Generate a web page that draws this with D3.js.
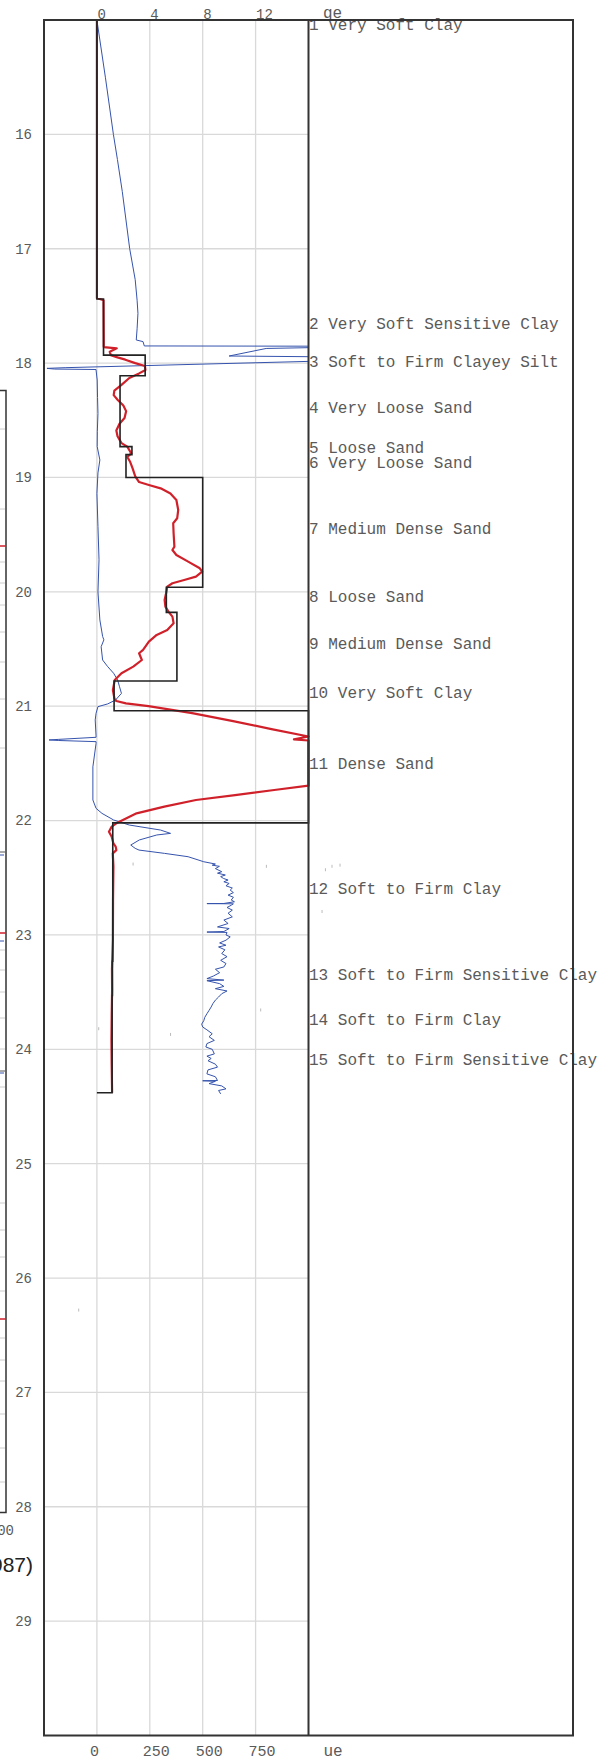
<!DOCTYPE html>
<html><head><meta charset="utf-8">
<script src="https://cdn.jsdelivr.net/npm/d3@7"></script>
<style>html,body{margin:0;padding:0;background:#fff;} svg{display:block}</style>
</head><body><svg id="c" width="614" height="1760"></svg>
<script>
// ---------- data ----------
const depthTicks = [16,17,18,19,20,21,22,23,24,25,26,27,28,29];
const qTicks = [0,4,8,12];
const uTicks = [0,250,500,750];
const qTitle = "qe";
const uTitle = "ue";

const layerNames = ["1 Very Soft Clay","2 Very Soft Sensitive Clay","3 Soft to Firm Clayey Silt",
  "4 Very Loose Sand","5 Loose Sand","6 Very Loose Sand","7 Medium Dense Sand","8 Loose Sand",
  "9 Medium Dense Sand","10 Very Soft Clay","11 Dense Sand","12 Soft to Firm Clay",
  "13 Soft to Firm Sensitive Clay","14 Soft to Firm Clay","15 Soft to Firm Sensitive Clay"];
const layerTops    = [0,17.44,17.93,18.11,18.73,18.80,19.00,19.96,20.18,20.78,21.04,22.02,23.23,23.53,24.01];
const layerBottoms = [17.44,17.93,18.11,18.73,18.80,19.00,19.96,20.18,20.78,21.04,22.02,23.23,23.53,24.01,24.23];
const layerQ       = [0,0.5,3.65,1.75,2.65,2.2,8.0,5.25,6.05,1.3,25,1.2,1.17,1.15,1.15];
const cptEnd = 24.38;

const qcDepth = [15.0,17.43,17.45,17.86,17.871,17.90,17.93,17.95,17.97,18.0,18.025,18.06,18.09,18.13,18.19,18.24,18.28,18.32,18.37,18.42,18.48,18.53,18.59,18.64,18.70,18.73,18.79,18.82,18.86,18.92,18.99,19.04,19.066,19.095,19.14,19.197,19.284,19.357,19.40,19.488,19.605,19.634,19.678,19.736,19.794,19.823,19.867,19.896,19.925,19.954,19.998,20.071,20.129,20.173,20.217,20.275,20.334,20.377,20.436,20.508,20.537,20.596,20.654,20.712,20.771,20.858,20.931,20.955,20.975,21.0,21.06,21.13,21.2,21.265,21.29,21.30,21.35,21.5,21.65,21.695,21.733,21.777,21.82,21.878,21.937,22.01,22.024,22.053,22.097,22.141,22.20,22.228,22.258,22.287,22.4,22.7,23.04,23.3,23.48,23.7,23.92,24.15,24.38];
const qcValue = [0,0,0.5,0.52,1.50,0.97,1.05,1.56,2.15,2.90,3.63,3.67,3.19,2.45,1.86,1.32,1.27,1.56,2.0,2.21,2.09,1.71,1.47,1.56,1.86,2.30,2.60,2.30,2.5,2.7,2.9,3.19,3.93,4.82,5.56,6.01,6.15,6.07,5.77,5.80,5.86,5.71,6.01,6.90,7.78,7.96,7.49,6.60,5.71,5.32,5.26,5.12,5.18,5.41,5.71,5.80,5.32,4.52,3.93,3.49,3.19,3.40,2.75,1.86,1.35,1.21,1.32,1.47,2.2,3.9,7.2,10.3,13.2,16.1,14.9,16.5,20,24,20,16.2,13.41,10.45,7.49,5.1,3.0,1.7,1.47,1.12,0.91,1.12,1.25,1.42,1.47,1.2,1.25,1.22,1.21,1.14,1.15,1.12,1.1,1.12,1.15];

const uDepth = [15.0,15.5,16.0,16.22,16.5,17.0,17.27,17.45,17.565,17.70,17.798,17.812,17.85,17.852,17.865,17.872,17.938,17.944,17.985,18.04,18.046,18.052,18.056,18.06,18.148,18.3,18.44,18.6,18.73,18.847,18.96,19.14,19.43,19.72,20.0,20.246,20.39,20.42,20.48,20.596,20.654,20.712,20.771,20.83,20.888,20.946,20.98,21.004,21.062,21.12,21.26,21.272,21.29,21.295,21.30,21.31,21.325,21.53,21.82,21.893,21.937,21.995,22.039,22.083,22.112,22.126,22.17,22.214,22.243,22.258,22.287,22.316,
  22.36,22.38,22.39,22.40,22.42,22.447,22.46,22.476,22.49,22.506,22.52,22.535,22.55,22.57,22.59,22.608,22.63,22.652,22.67,22.695,22.71,22.725,22.726,22.728,22.74,22.76,22.783,22.81,22.842,22.87,22.90,22.93,22.944,22.97,22.975,22.978,23.0,23.017,23.046,23.07,23.09,23.105,23.13,23.163,23.19,23.222,23.25,23.28,23.30,23.33,23.36,23.382,23.395,23.40,23.426,23.45,23.47,23.49,23.514,23.543,23.57,23.601,23.63,23.66,23.689,23.72,23.75,23.78,23.805,23.83,23.864,23.89,23.922,23.95,23.98,24.0,24.04,24.06,24.08,24.1,24.13,24.156,24.18,24.215,24.24,24.273,24.275,24.28,24.30,24.32,24.346,24.36,24.39];
const uValue = [0,40,78,97,120,155,181,190,194,190,186,218,224,1100,1100,800,625,1100,1100,-150,-236,-200,-4,-4,1.4,3,5,2,1.4,14,5,0,5,10,5,14,27,33,20,27,51,79,98,107,116,88,51,5,-4,-8,-4,-4,-180,-226,-180,-4,-4,-19,-19,-4,24,79,153,301,348,283,200,160,181,199,320,431,
  505,560,545,579,560,590,570,607,585,598,620,600,625,610,640,630,645,620,645,635,650,600,520,645,635,615,640,620,640,600,620,570,625,600,520,615,610,630,610,580,610,575,605,590,615,585,610,600,560,580,550,520,600,520,580,600,560,615,590,575,560,548,540,530,520,510,505,495,500,520,545,530,555,520,515,545,555,520,540,525,560,570,525,520,560,570,500,560,530,590,610,575,585];

// small stray grey marks (u value, depth)
const speckU = [171,801,774,8.5,348,-86,1080,1111,1149,1064];
const speckDepth = [22.38,22.40,23.656,23.82,23.87,26.28,22.43,22.40,22.39,22.795];

// neighbouring chart fragment on the far left (pixel rows of its ticks)
const fragTicksGrey = [429,509,562,583,605,632,662,699,748,950,970,992,1018,1049,1087,1203,1230,1257,1291,1338,1360,1381,1414,1448,1482];
const fragTicksRed = [546,933,1319];
const fragTicksDark = [852,1071];
const fragTicksBlue = [852,938,1070];

// ---------- layout ----------
const L = 44, D = 308.5, R = 573, T = 20, B = 1735.5;
const svg = d3.select("#c");
const y = d3.scaleLinear().domain([15,30]).range([T,B]);
const xq = d3.scaleLinear().domain([-4,16]).range([L,D]).clamp(true);
const xu = d3.scaleLinear().domain([-250,1000]).range([L,D]).clamp(true);
const mono = "'Liberation Mono','Courier New',monospace";
const txt = "#5a5a5a";

// gridlines
svg.append("g").selectAll("line").data(qTicks).join("line")
  .attr("x1",d=>xq(d)).attr("x2",d=>xq(d)).attr("y1",T).attr("y2",B)
  .attr("stroke","#d9d9d9").attr("stroke-width",1.3);
svg.append("g").selectAll("line").data(depthTicks).join("line")
  .attr("x1",L).attr("x2",D).attr("y1",d=>y(d)).attr("y2",d=>y(d))
  .attr("stroke","#d9d9d9").attr("stroke-width",1.3);

// depth labels
svg.append("g").selectAll("text").data(depthTicks).join("text")
  .attr("x",32).attr("y",d=>y(d)).attr("dy","0.35em").attr("text-anchor","end")
  .attr("font-family",mono).attr("font-size",14).attr("fill",txt).text(d=>d);

// top axis labels
svg.append("g").selectAll("text").data(qTicks).join("text")
  .attr("x",d=>xq(d)+0.5).attr("y",18.5)
  .attr("font-family",mono).attr("font-size",14).attr("fill",txt).text(d=>d);
svg.append("text").attr("x",D+14.5).attr("y",17.5).attr("font-family",mono)
  .attr("font-size",16).attr("fill",txt).text(qTitle);

// bottom axis labels
svg.append("g").selectAll("text").data(uTicks).join("text")
  .attr("x",d=>xu(d)-7).attr("y",1756)
  .attr("font-family",mono).attr("font-size",15).attr("fill",txt).text(d=>d);
svg.append("text").attr("x",D+15).attr("y",1756).attr("font-family",mono)
  .attr("font-size",16).attr("fill",txt).text(uTitle);

// specks
const xuFree = xu.copy().clamp(false);
svg.append("g").selectAll("rect").data(speckU).join("rect")
  .attr("x",d=>xuFree(d)-0.5).attr("y",(d,i)=>y(speckDepth[i])-1.5)
  .attr("width",1).attr("height",3).attr("fill","#bbb");

// blue (ue)
const uPts = uDepth.map((d,i)=>[xu(uValue[i]), y(d)]);
svg.append("path").attr("d",d3.line()(uPts)).attr("fill","none")
  .attr("stroke","#3553ad").attr("stroke-width",1).attr("stroke-linejoin","round");

// red (qc)
const qPts = qcDepth.map((d,i)=>[xq(qcValue[i]), y(d)]);
svg.append("path").attr("d",d3.line()(qPts)).attr("fill","none")
  .attr("stroke","#d0212b").attr("stroke-width",2.2).attr("stroke-linejoin","round");

// black layer steps
const stepPts = [];
layerQ.forEach((q,i)=>{
  const top = Math.max(layerTops[i],15);
  const bot = i===layerQ.length-1 ? cptEnd : layerBottoms[i];
  stepPts.push([xq(q), y(top)], [xq(q), y(bot)]);
});
stepPts.push([xq(0), y(cptEnd)]);
svg.append("path").attr("d",d3.line()(stepPts)).attr("fill","none")
  .attr("stroke","#222").attr("stroke-width",1.6);

// layer labels
svg.append("g").selectAll("text").data(layerNames).join("text")
  .attr("x",D+0.5)
  .attr("y",(d,i)=>Math.max(y((layerTops[i]+layerBottoms[i])/2)+2, T+10))
  .attr("font-family",mono).attr("font-size",16).attr("fill",txt).text(d=>d);

// frames
svg.append("rect").attr("x",L).attr("y",T).attr("width",R-L).attr("height",B-T)
  .attr("fill","none").attr("stroke","#333").attr("stroke-width",2);
svg.append("line").attr("x1",D).attr("x2",D).attr("y1",T).attr("y2",B)
  .attr("stroke","#333").attr("stroke-width",2);

// fragment of neighbouring chart
const frag = svg.append("g");
frag.append("path").attr("d","M0,390.5H6V1512.5H0").attr("fill","none").attr("stroke","#333").attr("stroke-width",1.5);
frag.selectAll("line.g").data(fragTicksGrey).join("line").attr("class","g")
  .attr("x1",0).attr("x2",5).attr("y1",d=>d).attr("y2",d=>d).attr("stroke","#ccc");
frag.selectAll("line.r").data(fragTicksRed).join("line").attr("class","r")
  .attr("x1",0).attr("x2",6).attr("y1",d=>d).attr("y2",d=>d).attr("stroke","#d0212b").attr("stroke-width",1.5);
frag.selectAll("line.k").data(fragTicksDark).join("line").attr("class","k")
  .attr("x1",0).attr("x2",5).attr("y1",d=>d).attr("y2",d=>d).attr("stroke","#555");
frag.selectAll("line.b").data(fragTicksBlue).join("line").attr("class","b")
  .attr("x1",0).attr("x2",4).attr("y1",d=>d+3).attr("y2",d=>d+3).attr("stroke","#3553ad");
frag.append("text").attr("x",14).attr("y",1535).attr("text-anchor","end")
  .attr("font-family",mono).attr("font-size",14).attr("fill",txt).text("1000");
frag.append("text").attr("x",33).attr("y",1572).attr("text-anchor","end")
  .attr("font-family","'Liberation Sans',Arial,sans-serif").attr("font-size",21).attr("fill","#222").text("(1987)");
</script></body></html>
